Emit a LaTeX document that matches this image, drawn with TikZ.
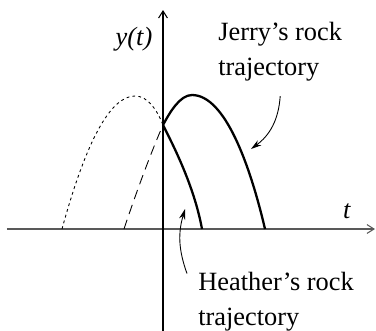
\documentclass[tikz,border=0pt]{standalone}
\usepackage{fontspec}
\setmainfont{Liberation Serif}
\usepackage{tikz}
\usetikzlibrary{arrows.meta,calc}

\begin{document}
\begin{tikzpicture}[font=\fontsize{15pt}{19.8pt}\selectfont,
		traj/.style={line width=1.3pt},
		pointer/.style={-{Stealth[length=6pt,width=3.5pt]}, line width=0.5pt},
		lbl/.style={inner sep=0pt, anchor=base west, align=left}]
		\useasboundingbox (-3.26,-2.02) rectangle (4.26,4.58);
		% axes
		\coordinate (tmin) at (-3.12,0);
		\coordinate (tmax) at (4.24,0);
		\coordinate (ymin) at (0,-2.1);
		\coordinate (ymax) at (0,4.38);
		\draw[black!65, line width=0.6pt, -{Straight Barb[length=4pt,width=5pt]}] (tmin) -- (tmax);
		\draw[line width=0.6pt, -{Straight Barb[length=4pt,width=5pt]}] (ymin) -- (ymax);
		\node[anchor=base] (ylab) at (-0.58,3.68) {\textit{y(t)}};
		\node[anchor=base] (tlab) at (3.68,0.22) {\textit{t}};
		% release point and landing points
		\coordinate (top) at (0,2.08);
		\coordinate (jpeak) at (0.58,2.68);
		\coordinate (jland) at (2.04,0);
		\coordinate (hland) at (0.78,0);
		% Jerry's rock (solid), before t=0 (dashed)
		\draw[traj] (top) .. controls (0.14,2.34) and (0.34,2.68) .. (jpeak)
			.. controls (1.24,2.68) and (1.74,1.28) .. (jland);
		\draw[line width=0.5pt, dash pattern=on 5.5pt off 3.5pt]
			(-0.78,0) .. controls (-0.52,0.78) and (-0.22,1.58) .. (top);
		% Heather's rock (solid), before t=0 (dotted)
		\draw[traj] (top) .. controls (0.18,1.72) and (0.62,0.88) .. (hland);
		\draw[line width=0.5pt, dash pattern=on 1.6pt off 1.8pt]
			(-2.02,0) .. controls (-1.534,1.774) and (-1.046,2.66) .. (-0.56,2.66)
			.. controls (-0.30,2.66) and (-0.12,2.38) .. (top);
		% labels (base = last line)
		\node[lbl] (jerry) at (1.10,3.08) {Jerry's rock\\trajectory};
		\node[lbl] (heather) at (0.70,-1.92) {Heather's rock\\trajectory};
		\coordinate (jhit) at (1.76,1.60);
		\coordinate (hhit) at (0.44,0.40);
		\draw[pointer] ($(jerry.south)+(0,-0.3)$) to[bend left=25] (jhit);
		\draw[pointer] ($(heather.north west)+(-0.22,-0.04)$) to[bend left=18] (hhit);
	\end{tikzpicture}
\end{document}
